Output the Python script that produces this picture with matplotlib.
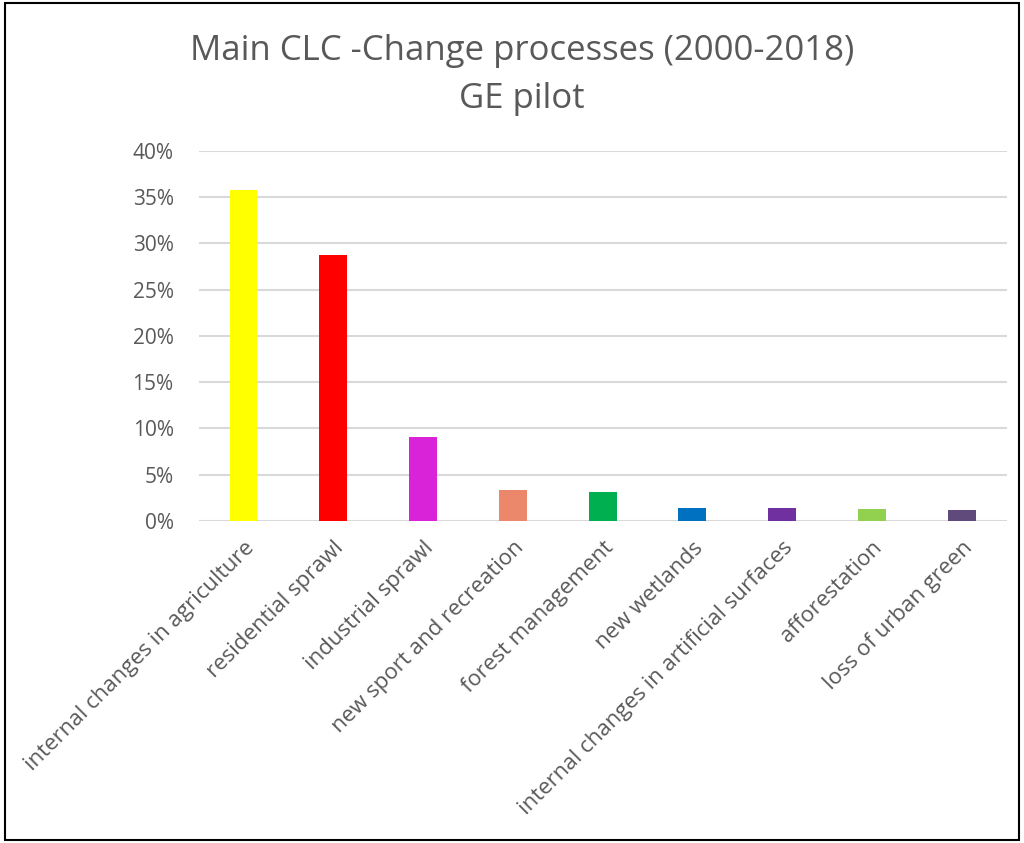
import numpy as np
import matplotlib
matplotlib.use('Agg')
import matplotlib.pyplot as plt
from matplotlib.patches import Rectangle
from matplotlib.ticker import PercentFormatter

# Data
categories = ['internal changes in agriculture', 'residential sprawl', 'industrial sprawl',
              'new sport and recreation', 'forest management', 'new wetlands',
              'internal changes in artificial surfaces', 'afforestation', 'loss of urban green']
shares = [35.8, 28.7, 9.06, 3.3, 3.14, 1.37, 1.37, 1.27, 1.16]
colors = ['#FFFF00', '#FF0000', '#D923D9', '#EB886B', '#00B050',
          '#0070C0', '#7030A0', '#92D050', '#604A7B']
yticks = [0, 5, 10, 15, 20, 25, 30, 35, 40]

plt.rcParams['font.family'] = ['Open Sans', 'DejaVu Sans']
text_color = '#595959'

fig = plt.figure(figsize=(10.24, 8.43), dpi=100)
ax = fig.add_axes([0.194, 0.3823, 0.789, 0.4386])

x = np.arange(len(categories))
ax.bar(x, shares, width=0.31, color=colors, zorder=3)

ax.set_xlim(-0.5, len(categories) - 0.5)
ax.set_ylim(0, 40)
ax.set_yticks(yticks)
ax.yaxis.set_major_formatter(PercentFormatter(decimals=0))
ax.grid(axis='y', color='#D9D9D9', linewidth=1.5, zorder=0)
ax.set_xticks(x)
ax.set_xticklabels(categories, rotation=45, ha='right', rotation_mode='anchor')
ax.tick_params(axis='both', length=0, colors=text_color)
ax.tick_params(axis='y', pad=18, labelsize=15)
ax.tick_params(axis='x', pad=12, labelsize=16)
for s in ax.spines.values():
    s.set_visible(False)

fig.text(0.51, 0.94, 'Main CLC -Change processes (2000-2018)', ha='center', va='center',
         fontsize=25, color=text_color)
fig.text(0.51, 0.883, 'GE pilot', ha='center', va='center', fontsize=25, color=text_color)

# outer frame
fig.patches.append(Rectangle((0.005, 0.003), 0.99, 0.994, transform=fig.transFigure,
                             fill=False, edgecolor='black', linewidth=1.5))

fig.savefig('out.png', dpi=100)
